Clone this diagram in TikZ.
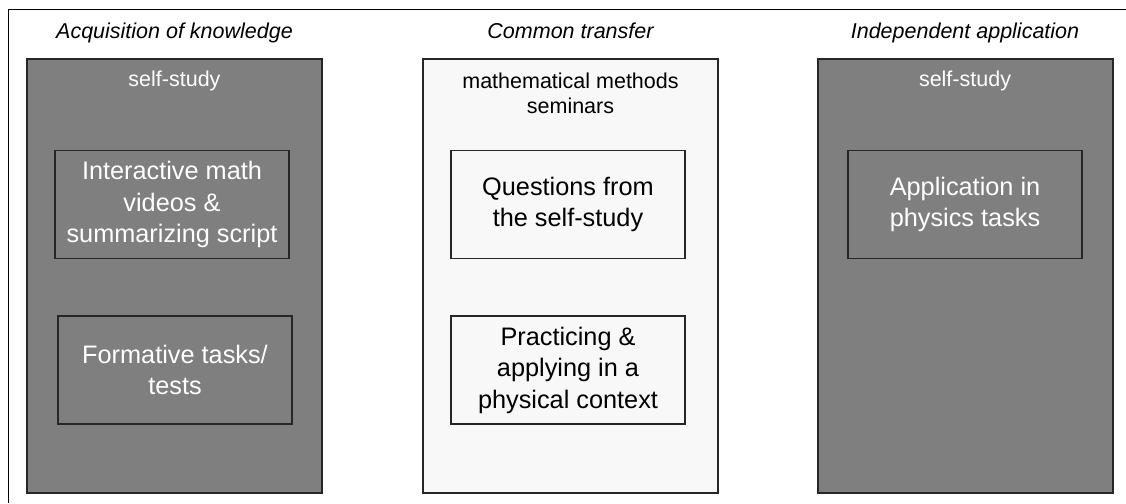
\documentclass[tikz,border=0pt]{standalone}
\usepackage{fontspec}
\setmainfont{Liberation Sans}
\usetikzlibrary{positioning}

\definecolor{boxgray}{HTML}{7F7F7F}
\definecolor{paleback}{HTML}{F8F8F8}
\definecolor{edgegray}{HTML}{262626}

\tikzset{
    column/.style={draw=edgegray, line width=2pt, minimum width=295pt, minimum height=434pt, inner sep=0pt},
    topic/.style={draw=edgegray, line width=1.5pt, minimum width=234pt, minimum height=108pt, inner sep=0pt, align=center, font=\fontsize{25.3}{31.5}\selectfont},
    heading/.style={anchor=base, font=\fontsize{21.5}{24}\selectfont\itshape},
    place/.style={align=center, font=\fontsize{21.5}{25}\selectfont},
}

\begin{document}
\begin{tikzpicture}[x=1pt,y=-1pt]
    \useasboundingbox (0,0) rectangle (1126,503);

    % frame
    \draw[line width=1pt] (1126,10) -- (8,10) -- (8,503);

    % columns
    \node[column, fill=boxgray] (acq) at (174.5,276) {};
    \node[column, fill=paleback] (trans) at (570.5,276) {};
    \node[column, fill=boxgray] (appl) at (965,276) {};

    \node[heading] (acqhead) at ([yshift=19pt]acq.north) {Acquisition of knowledge};
    \node[heading] (transhead) at ([yshift=19pt]trans.north) {Common transfer};
    \node[heading] (applhead) at ([yshift=19pt]appl.north) {Independent application};

    \node[place, anchor=base, text=white] (acqplace) at ([yshift=-28pt]acq.north) {self-study};
    \node[place] (transplace) at ([yshift=-35pt]trans.north) {mathematical methods\\seminars};
    \node[place, anchor=base, text=white] (applplace) at ([yshift=-28pt]appl.north) {self-study};

    % topics
    \node[topic, text=white] (videos) at (172,204.5) {Interactive math\\videos \&\\summarizing script};
    \node[topic, text=white] (tests) at (175,370) {Formative tasks/\\tests};
    \node[topic] (questions) at (568,204.5) {Questions from\\the self-study};
    \node[topic] (practice) at (568,370) {Practicing \&\\applying in a\\physical context};
    \node[topic, text=white] (physics) at (965,204.5) {Application in\\physics tasks};
\end{tikzpicture}
\end{document}
